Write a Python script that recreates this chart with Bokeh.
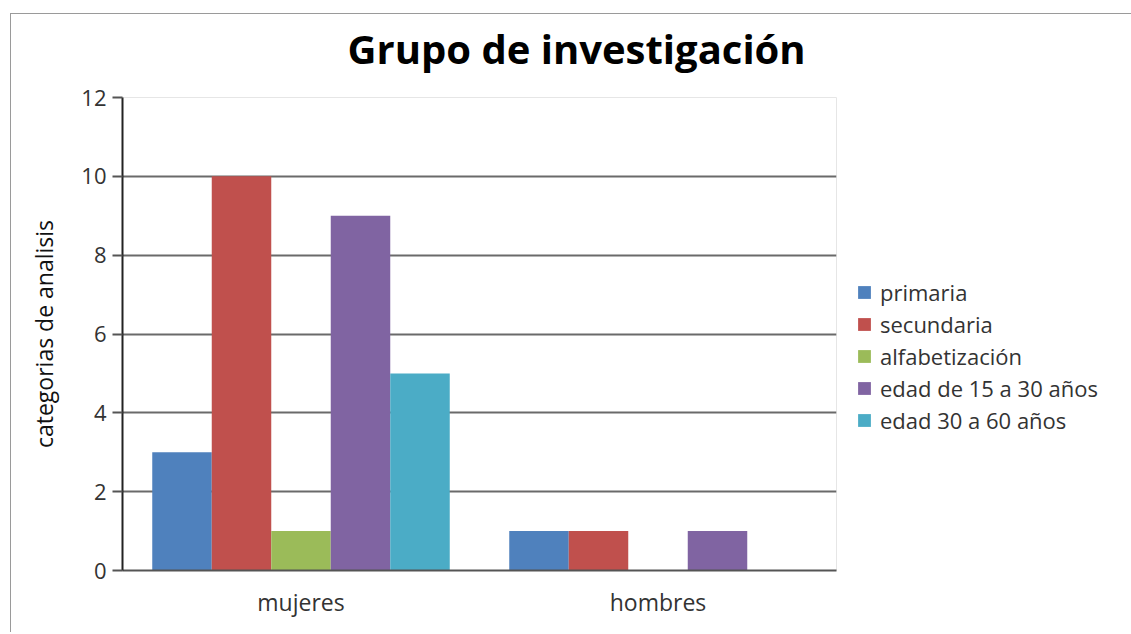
from bokeh.plotting import figure
from bokeh.models import FactorRange, Range1d, Legend, LegendItem, Title, ColumnDataSource, FixedTicker
from bokeh.transform import dodge
from bokeh.embed import file_html
from bokeh.resources import INLINE

groups = ["mujeres", "hombres"]
series = ["primaria", "secundaria", "alfabetización", "edad de 15 a 30 años", "edad 30 a 60 años"]
primaria = [3, 1]
secundaria = [10, 1]
alfabetizacion = [1, 0]
edad_15_30 = [9, 1]
edad_30_60 = [5, 0]
colors = ["#4F81BD", "#C0504D", "#9BBB59", "#8064A2", "#4BACC6"]
y_ticks = [0, 2, 4, 6, 8, 10, 12]

values = [primaria, secundaria, alfabetizacion, edad_15_30, edad_30_60]
src = ColumnDataSource(dict(g=groups, **{f"s{i}": v for i, v in enumerate(values)}))

FONT = "Open Sans"
p = figure(x_range=FactorRange(factors=groups, range_padding=0), y_range=Range1d(0, 12),
           frame_width=714, frame_height=473, output_backend="svg", toolbar_location=None,
           min_border_left=112, min_border_right=293, min_border_top=100, min_border_bottom=62)
# outer chart frame (top and left edges) drawn as thin lines behind a transparent canvas
p.styles = {"margin-top": "-3px", "margin-left": "10px",
            "background-image": "linear-gradient(#9a9a9a, #9a9a9a), linear-gradient(#9a9a9a, #9a9a9a)",
            "background-repeat": "no-repeat",
            "background-size": "100% 1px, 1px 100%",
            "background-position": "0 16px, 0 16px"}
p.title.visible = False
p.background_fill_color = "white"
p.border_fill_alpha = 0
p.outline_line_color = "#e6e6e6"
p.outline_line_width = 1

bw = 1 / 6
items = []
for i, (name, col) in enumerate(zip(series, colors)):
    off = (i - 2) * bw
    r = p.vbar(x=dodge("g", off, range=p.x_range), top=f"s{i}", width=bw, source=src,
               fill_color=col, line_color=None)
    items.append(LegendItem(label=name, renderers=[r]))

# axes
p.yaxis.ticker = FixedTicker(ticks=y_ticks)
p.yaxis.major_tick_out = 10
p.yaxis.major_tick_in = 0
p.yaxis.minor_tick_line_color = None
p.yaxis.axis_line_color = "#222222"
p.yaxis.axis_line_width = 2
p.yaxis.major_tick_line_color = "#555555"
p.yaxis.major_tick_line_width = 2
p.yaxis.major_label_text_font = FONT
p.yaxis.major_label_text_font_size = "22px"
p.yaxis.major_label_text_color = "#333333"
p.yaxis.major_label_standoff = 6
p.yaxis.axis_label = "categorias de analisis"
p.yaxis.axis_label_text_font = FONT
p.yaxis.axis_label_text_font_size = "23px"
p.yaxis.axis_label_text_font_style = "normal"
p.yaxis.axis_label_text_color = "#111111"
p.yaxis.axis_label_standoff = 18

p.xaxis.major_tick_line_color = None
p.xaxis.minor_tick_line_color = None
p.xaxis.axis_line_color = "#555555"
p.xaxis.axis_line_width = 2
p.xaxis.major_label_text_font = FONT
p.xaxis.major_label_text_font_size = "23px"
p.xaxis.major_label_text_color = "#333333"
p.xaxis.major_label_standoff = 9

p.xgrid.grid_line_color = None
p.ygrid.ticker = FixedTicker(ticks=y_ticks)
p.ygrid.grid_line_color = "#6a6a6a"
p.ygrid.grid_line_width = 2

legend = Legend(items=items, location="top_left", orientation="vertical",
                padding=6, margin=20, spacing=0, glyph_width=16, glyph_height=16,
                label_height=32, label_standoff=8, border_line_color=None,
                background_fill_alpha=0, label_text_font=FONT,
                label_text_font_size="22px", label_text_color="#333333",
                title=" ", title_text_font_size="1px", title_standoff=158)
p.add_layout(legend, "right")

title = Title(text="Grupo de investigación", align="left", offset=225, standoff=43,
              vertical_align="bottom",
              text_font=FONT, text_font_size="40px", text_font_style="bold",
              text_color="#000000")
p.add_layout(title, "above")

open("out.html", "w").write(file_html(p, INLINE))
